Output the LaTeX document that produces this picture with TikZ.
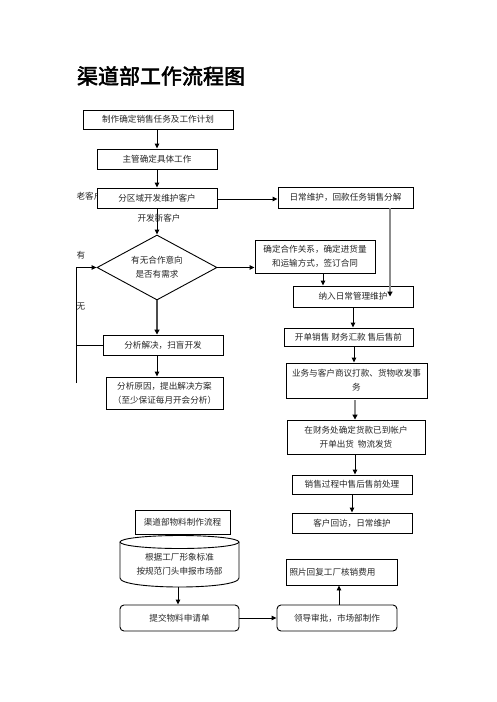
\documentclass[tikz,border=0pt]{standalone}
\usepackage{fontspec}
\setmainfont{Noto Sans CJK SC}
\newfontfamily\titlefont[FakeBold=2.5]{Noto Sans CJK SC}
\usetikzlibrary{arrows.meta,shapes.geometric,calc}
\tikzset{
  txt/.style={font=\fontsize{8.6pt}{14pt}\selectfont, inner sep=0pt, align=center, text=black!85},
  box/.style={txt, draw, line width=0.9pt},
  rbox/.style={box, rounded corners=4pt},
  arr/.style={line width=0.9pt, -{Triangle[length=5pt,width=4.5pt]}},
  garr/.style={line width=1.8pt, draw=black!45, -{Triangle[length=5pt,width=5pt,color=black]}},
  darr/.style={line width=1.6pt, draw=black!70, -{Triangle[length=5pt,width=5pt,color=black]}},
  ln/.style={line width=0.9pt}
}
\begin{document}
\begin{tikzpicture}[x=1pt,y=-1pt]
\useasboundingbox (0,0) rectangle (496,702);
% title
\node[inner sep=0pt, font=\titlefont\fontsize{21pt}{24pt}\selectfont] (title) at (161,76) {渠道部工作流程图};
% labels behind boxes
\node[txt] (lao) at (89.5,196) {老客户};
% main column
\node[box, minimum width=150pt, minimum height=19pt] (b1) at (158,119.5) {制作确定销售任务及工作计划};
\node[box, minimum width=120pt, minimum height=20pt] (b2) at (157,159) {主管确定具体工作};
\node[box, fill=white, minimum width=120pt, minimum height=20pt] (b3) at (157,198) {分区域开发维护客户};
\node[box, minimum width=135pt, minimum height=21pt] (r1) at (345.5,197.5) {日常维护，回款任务销售分解};
\node[box, shape=diamond, aspect=1.85, minimum width=120pt, minimum height=65pt] (dia) at (157,267.5) {有无合作意向\\是否有需求};
\node[box, minimum width=120pt, minimum height=33pt] (c1) at (315,256.5) {确定合作关系，确定进货量\\和运输方式，签订合同};
\node[box, minimum width=120pt, minimum height=21pt] (r2) at (353,296.5) {纳入日常管理维护};
\node[box, minimum width=129pt, minimum height=18pt] (r3) at (348.5,337) {开单销售\ 财务汇款\ 售后售前};
\node[box, minimum width=141pt, minimum height=35pt] (r4) at (356.5,380.5) {业务与客户商议打款、货物收发事\\务};
\node[box, minimum width=138pt, minimum height=34pt] (r5) at (356,437) {在财务处确定货款已到帐户\\开单出货\ \ 物流发货};
\node[box, minimum width=120pt, minimum height=19pt] (r6) at (352,484.5) {销售过程中售后售前处理};
\node[box, minimum width=120pt, minimum height=20pt] (r7) at (352,523) {客户回访，日常维护};
\node[box, minimum width=120pt, minimum height=20pt] (l1) at (163,345) {分析解决，扫盲开发};
\node[box, minimum width=117pt, minimum height=32pt] (l2) at (164.5,393) {分析原因，提出解决方案\\（至少保证每月开会分析）};
\node[txt] (you) at (81,255) {有};
\node[txt] (wu) at (81,307) {无};
% material flow
\node[box, minimum width=95pt, minimum height=24pt] (m0) at (182.5,522) {渠道部物料制作流程};
\node[txt, minimum width=119pt, minimum height=52pt] (cyl) at (179.5,564) {根据工厂形象标准\\按规范门头申报市场部};
\node[rbox, minimum width=119pt, minimum height=26pt] (m1) at (179.5,618) {提交物料申请单};
\node[rbox, minimum width=120pt, minimum height=26pt] (m2) at (337,618) {领导审批，市场部制作};
\node[box, minimum width=111pt, minimum height=26pt, text width=104pt, align=left] (m3) at (341.5,572) {照片回复工厂核销费用};
% cylinder outline
\draw[ln] (179.5,542) ellipse [x radius=59.5, y radius=6.5];
\draw[ln] (120,542) -- (120,578) .. controls (120,590) and (239,590) .. (239,578) -- (239,542);
\coordinate (cylb) at (178,587);
% connectors
\draw[arr] (b1.south -| b2.north) -- (b2.north);
\draw[arr] (b2.south) -- (b3.north);
\draw[arr] ([yshift=-1pt]b3.east) -- ([yshift=-1pt]b3.east -| r1.west);
\draw[arr] (b3.south) -- (dia.north);
\node[txt] (xin) at (159,218) {开发新客户};
\draw[arr] (dia.east) -- (dia.east -| c1.west);
\draw[arr] ([xshift=8pt]c1.south) -- ([xshift=8pt]c1.south |- r2.north);
\draw[garr] ([xshift=44.5pt]r1.south) -- ([xshift=44.5pt]r1.south |- r2.center);
\draw[arr] (r2.south) -- (r2.south |- r3.north);
\coordinate (x34) at (354,346);
\draw[arr] (r3.south -| x34) -- (x34 |- r4.north);
\coordinate (x45) at (355,398);
\draw[garr] ([yshift=-2pt]r4.south -| x45) -- (x45 |- r5.north);
\draw[arr] (r5.south -| x45) -- (x45 |- r6.north);
\draw[arr] (r6.south -| r7.north) -- (r7.north);
\draw[darr] (dia.south) -- (dia.south |- l1.north);
\draw[arr] (l1.south -| dia.south) -- (dia.south |- l2.north);
\coordinate (lt) at (76,267.5);
\coordinate (lb) at (76,383);
\draw[arr] (lb) -- (lt) -- (dia.west);
\draw[ln] (l1.west) -- (l1.west -| lt);
\draw[arr] (cylb) -- (cylb |- m1.north);
\draw[arr] (m1.east) -- (m2.west);
\coordinate (x23) at (339,605);
\draw[arr] (m2.north -| x23) -- (x23 |- m3.south);
\end{tikzpicture}
\end{document}
